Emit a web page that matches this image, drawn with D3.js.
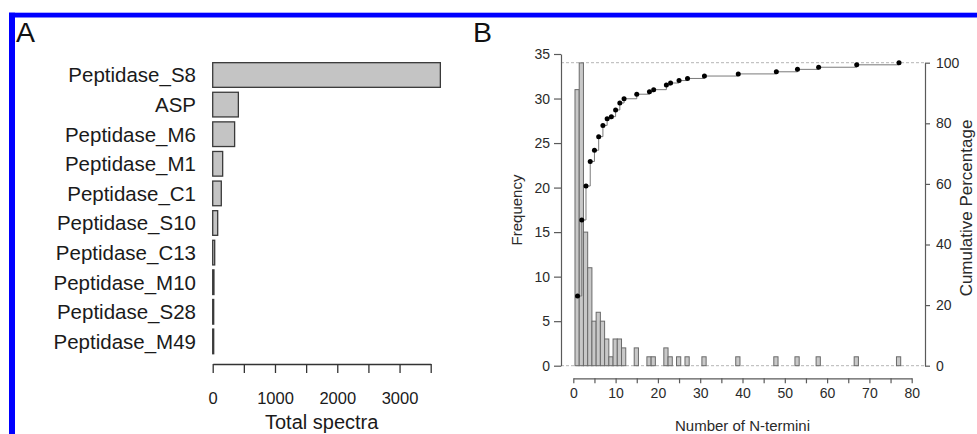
<!DOCTYPE html>
<html>
<head>
<script src="https://d3js.org/d3.v7.min.js"></script>
<style>
  body { margin: 0; background: #fff; }
  svg { font-family: "Liberation Sans", Arial, Helvetica, sans-serif; display: block; }
</style>
</head>
<body>
<svg id="fig" width="977" height="434"></svg>
<script>
// Panel A: total spectra per peptidase family
var families = ["Peptidase_S8", "ASP", "Peptidase_M6", "Peptidase_M1", "Peptidase_C1",
                "Peptidase_S10", "Peptidase_C13", "Peptidase_M10", "Peptidase_S28", "Peptidase_M49"];
var spectra = [3655, 412, 352, 160, 138, 80, 32, 20, 15, 10];
var spectraTicks = [0, 500, 1000, 1500, 2000, 2500, 3000, 3500];

// Panel B: histogram of N-termini per protein + cumulative percentage
var nTermini  = [1, 2, 3, 4, 5, 6, 7, 8, 9, 10, 11, 12, 15, 18, 19, 22, 23, 25, 27, 31, 39, 48, 53, 58, 67, 77];
var frequency = [31, 34, 15, 11, 5, 6, 5, 3, 1, 3, 3, 2, 2, 1, 1, 2, 1, 1, 1, 1, 1, 1, 1, 1, 1, 1];
var cumPercent = [23.0, 48.1, 59.3, 67.4, 71.1, 75.6, 79.3, 81.5, 82.2, 84.4, 86.7, 88.1, 89.6,
                  90.4, 91.1, 92.6, 93.3, 94.1, 94.8, 95.6, 96.3, 97.0, 97.8, 98.5, 99.3, 100];
var freqTicks = [0, 5, 10, 15, 20, 25, 30, 35];
var termTicks = [0, 5, 10, 15, 20, 25, 30, 35, 40, 45, 50, 55, 60, 65, 70, 75, 80];
var pctTicks = [0, 20, 40, 60, 80, 100];

var svg = d3.select("#fig");

// blue frame (top + left edge of the figure box)
svg.append("rect").attr("x", 9).attr("y", 12.7).attr("width", 970).attr("height", 4.8).attr("fill", "#0000ff");
svg.append("rect").attr("x", 9).attr("y", 12.7).attr("width", 6).attr("height", 430).attr("fill", "#0000ff");

// panel letters
svg.append("text").attr("x", 16).attr("y", 41.7).attr("font-size", 28.5).attr("fill", "#111").text("A");
svg.append("text").attr("x", 473).attr("y", 41.7).attr("font-size", 28.5).attr("fill", "#111").text("B");

// ---------- Panel A ----------
var xA = d3.scaleLinear().domain([0, 3500]).range([212.7, 430.7]);
var yA = d3.scaleBand().domain(families).range([60.2, 356.2]).paddingInner(1 / 6).paddingOuter(1 / 12);

var gA = svg.append("g");

gA.selectAll("rect.bar")
  .data(families)
  .enter().append("rect")
    .attr("class", "bar")
    .attr("x", xA(0))
    .attr("y", function(d) { return yA(d); })
    .attr("width", function(d, i) { return Math.max(xA(spectra[i]) - xA(0), 1); })
    .attr("height", yA.bandwidth())
    .attr("fill", "#c4c4c4")
    .attr("stroke", "#3a3a3a")
    .attr("stroke-width", 1.3);

gA.selectAll("text.cat")
  .data(families)
  .enter().append("text")
    .attr("class", "cat")
    .attr("x", 196)
    .attr("y", function(d) { return yA(d) + yA.bandwidth() / 2; })
    .attr("dy", "0.36em")
    .attr("text-anchor", "end")
    .attr("font-size", 20.5)
    .attr("fill", "#1a1a1a")
    .text(function(d) { return d; });

var axA = gA.append("g")
  .attr("transform", "translate(0,364)")
  .call(d3.axisBottom(xA)
    .tickValues(spectraTicks)
    .tickFormat(function(d) { return d % 1000 === 0 ? d : ""; })
    .tickSize(9).tickSizeOuter(0).tickPadding(19));
axA.select(".domain").attr("stroke", "#333").attr("stroke-width", 1.3);
axA.selectAll(".tick line").attr("stroke", "#333").attr("stroke-width", 1.3);
axA.selectAll(".tick text").attr("font-size", 16.5).attr("fill", "#1a1a1a").attr("font-family", null);

gA.append("text")
  .attr("x", xA(1750)).attr("y", 429)
  .attr("text-anchor", "middle").attr("font-size", 20).attr("fill", "#1a1a1a")
  .text("Total spectra");

// ---------- Panel B ----------
var xB = d3.scaleLinear().domain([0, 80]).range([573.3, 911.7]);
var yF = d3.scaleLinear().domain([0, 35]).range([365.7, 54]);
var yP = d3.scaleLinear().domain([0, 100]).range([365.7, 62.7]);
var axisGrey = "#5a5a5a";

var gB = svg.append("g");

// dashed reference lines at 0 and 100 %
gB.selectAll("line.ref")
  .data([0, 100])
  .enter().append("line")
    .attr("class", "ref")
    .attr("x1", 561).attr("x2", 925)
    .attr("y1", function(d) { return yP(d); })
    .attr("y2", function(d) { return yP(d); })
    .attr("stroke", "#b5b5b5")
    .attr("stroke-width", 1)
    .attr("stroke-dasharray", "3,2");

// histogram bars
gB.selectAll("rect.hist")
  .data(nTermini)
  .enter().append("rect")
    .attr("class", "hist")
    .attr("x", function(d) { return xB(d - 0.6); })
    .attr("y", function(d, i) { return yF(frequency[i]); })
    .attr("width", function(d) { return xB(d + 0.4) - xB(d - 0.6); })
    .attr("height", function(d, i) { return yF(0) - yF(frequency[i]); })
    .attr("fill", "#c8c8c8")
    .attr("stroke", "#6a6a6a")
    .attr("stroke-width", 1);

// cumulative step line + points
var cumPts = nTermini.map(function(d, i) { return [d, cumPercent[i]]; });
gB.append("path")
  .datum(cumPts)
  .attr("fill", "none")
  .attr("stroke", "#7a7a7a")
  .attr("stroke-width", 1)
  .attr("d", d3.line()
    .x(function(d) { return xB(d[0]); })
    .y(function(d) { return yP(d[1]); })
    .curve(d3.curveStepAfter));

gB.selectAll("circle.cum")
  .data(cumPts)
  .enter().append("circle")
    .attr("class", "cum")
    .attr("cx", function(d) { return xB(d[0]); })
    .attr("cy", function(d) { return yP(d[1]); })
    .attr("r", 2.5)
    .attr("fill", "#000");

// axes
function styleAxis(g) {
  g.select(".domain").attr("stroke", axisGrey).attr("stroke-width", 1.2);
  g.selectAll(".tick line").attr("stroke", axisGrey).attr("stroke-width", 1.2);
  g.selectAll(".tick text").attr("font-size", 14).attr("fill", "#2a2a2a").attr("font-family", null);
}

gB.append("g")
  .attr("transform", "translate(561,0)")
  .call(d3.axisLeft(yF).tickValues(freqTicks).tickSize(7).tickSizeOuter(0).tickPadding(4))
  .call(styleAxis);

gB.append("g")
  .attr("transform", "translate(925,0)")
  .call(d3.axisRight(yP).tickValues(pctTicks).tickSize(5).tickSizeOuter(0).tickPadding(6))
  .call(styleAxis);

gB.append("g")
  .attr("transform", "translate(0,378.3)")
  .call(d3.axisBottom(xB).tickValues(termTicks)
    .tickFormat(function(d) { return d % 10 === 0 ? d : ""; })
    .tickSize(5).tickSizeOuter(0).tickPadding(5))
  .call(styleAxis);

// axis titles
gB.append("text")
  .attr("transform", "translate(522,210) rotate(-90)")
  .attr("text-anchor", "middle").attr("font-size", 15).attr("fill", "#2a2a2a")
  .text("Frequency");

gB.append("text")
  .attr("transform", "translate(972,208) rotate(-90)")
  .attr("text-anchor", "middle").attr("font-size", 17).attr("fill", "#2a2a2a")
  .text("Cumulative Percentage");

gB.append("text")
  .attr("x", xB(40)).attr("y", 431)
  .attr("text-anchor", "middle").attr("font-size", 15).attr("fill", "#2a2a2a")
  .text("Number of N-termini");
</script>
</body>
</html>
